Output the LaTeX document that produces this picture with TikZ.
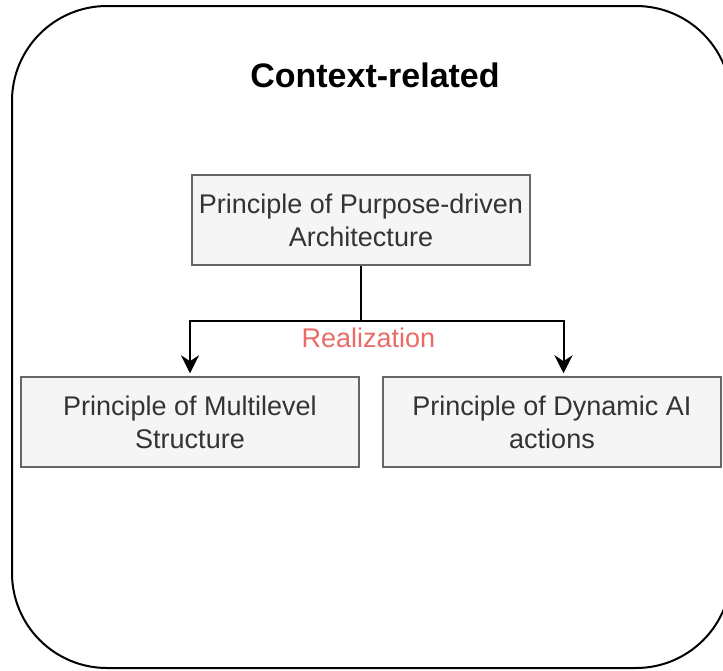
\documentclass[tikz,border=0pt]{standalone}
\usepackage{fontspec}
\setmainfont{Liberation Sans}
\usetikzlibrary{arrows.meta}
\definecolor{boxfill}{HTML}{F5F5F5}
\definecolor{boxline}{HTML}{666666}
\definecolor{boxtext}{HTML}{333333}
\definecolor{realred}{HTML}{EA6B66}
\begin{document}
\begin{tikzpicture}[x=1pt, y=-1pt, >={Stealth[length=18pt, width=18pt, inset=6pt]},
  principle/.style={draw=boxline, fill=boxfill, line width=1.5pt, rectangle, align=center,
    text=boxtext, minimum width=338pt, minimum height=90pt, inner sep=0pt,
    font=\fontsize{27}{33}\selectfont}]
\useasboundingbox (0,0) rectangle (723,670);
\clip (0,0) rectangle (723,670);
\draw[line width=2pt, rounded corners=95pt] (12,6) rectangle (731,668);

\node[font=\fontsize{34}{40}\selectfont\bfseries] (title) at (375,75) {Context-related};

\node[principle] (purpose) at (361,220) {Principle of Purpose-driven\\Architecture};
\node[principle] (multi) at (190,422) {Principle of Multilevel\\Structure};
\node[principle] (dynamic) at (552,422) {Principle of Dynamic AI\\actions};

\coordinate (split) at (361,321);
\draw[line width=2pt] (purpose.south) -- (split);
\draw[line width=2pt, ->, shorten >=3pt] (split) -| (multi.north);
\draw[line width=2pt, ->, shorten >=3pt] (split) -| ([xshift=11.5pt]dynamic.north);
\node[text=realred, font=\fontsize{27}{32}\selectfont] (real) at (368.5,338) {Realization};
\end{tikzpicture}
\end{document}
